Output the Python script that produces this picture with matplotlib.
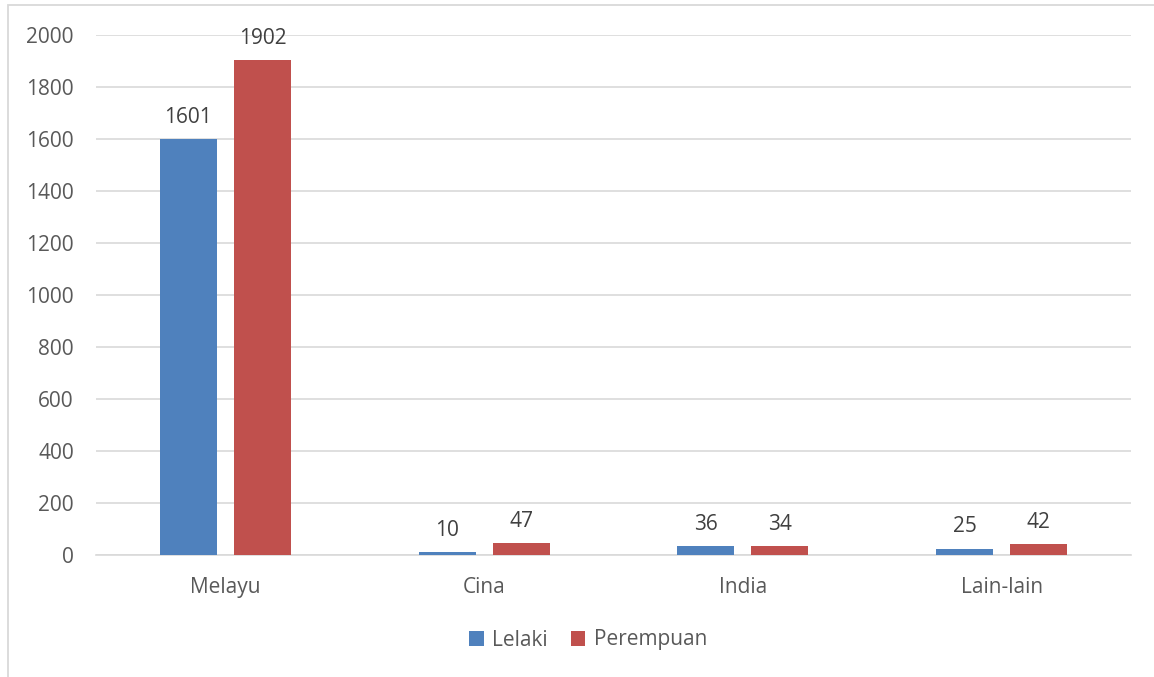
import numpy as np
import matplotlib
matplotlib.use("Agg")
import matplotlib.pyplot as plt
from matplotlib.patches import Rectangle

# Data
kategori = ["Melayu", "Cina", "India", "Lain-lain"]
lelaki = [1601, 10, 36, 25]
perempuan = [1902, 47, 34, 42]
yticks = [0, 200, 400, 600, 800, 1000, 1200, 1400, 1600, 1800, 2000]

biru = "#4F81BD"
merah = "#C0504D"
teks = "#595959"
teks_label = "#404040"
grid = "#D9D9D9"

plt.rcParams["font.family"] = ["Open Sans", "DejaVu Sans"]
fs = 15

fig = plt.figure(figsize=(11.54, 6.77), dpi=100)
ax = fig.add_axes([96 / 1154, 1 - 555 / 677, 1035 / 1154, 520 / 677])

x = np.arange(len(kategori))
lebar = 0.22
b1 = ax.bar(x - 0.143, lelaki, lebar, color=biru, label="Lelaki", zorder=3)
b2 = ax.bar(x + 0.143, perempuan, lebar, color=merah, label="Perempuan", zorder=3)

for bars, vals in [(b1, lelaki), (b2, perempuan)]:
    for b, v in zip(bars, vals):
        ax.annotate(str(v), (b.get_x() + b.get_width() / 2, v),
                    xytext=(0, 8), textcoords="offset points",
                    ha="center", va="bottom", fontsize=fs, color=teks_label)

ax.set_xlim(-0.5, len(kategori) - 0.5)
ax.set_ylim(0, 2000)
ax.set_yticks(yticks)
ax.set_xticks(x)
ax.set_xticklabels(kategori)
ax.tick_params(axis="both", length=0, labelsize=fs, labelcolor=teks)
ax.tick_params(axis="y", pad=16)
ax.tick_params(axis="x", pad=16)
ax.yaxis.grid(True, color=grid, linewidth=1.2, zorder=0)
for s in ["top", "right", "left"]:
    ax.spines[s].set_visible(False)
ax.spines["bottom"].set_color(grid)
ax.spines["bottom"].set_linewidth(1.2)

leg = fig.legend(loc="center", bbox_to_anchor=(588 / 1154, 1 - 640 / 677),
                 ncol=2, frameon=False, fontsize=fs, handlelength=0.7,
                 handleheight=0.7, handletextpad=0.4, columnspacing=1.1)
for t in leg.get_texts():
    t.set_color(teks)

# chart border
fig.patches.append(Rectangle((8 / 1154, -0.1), 1.2, 1 - 5 / 677 + 0.1,
                             transform=fig.transFigure, fill=False,
                             edgecolor=grid, linewidth=1.3))

fig.savefig("out.png", dpi=100)
